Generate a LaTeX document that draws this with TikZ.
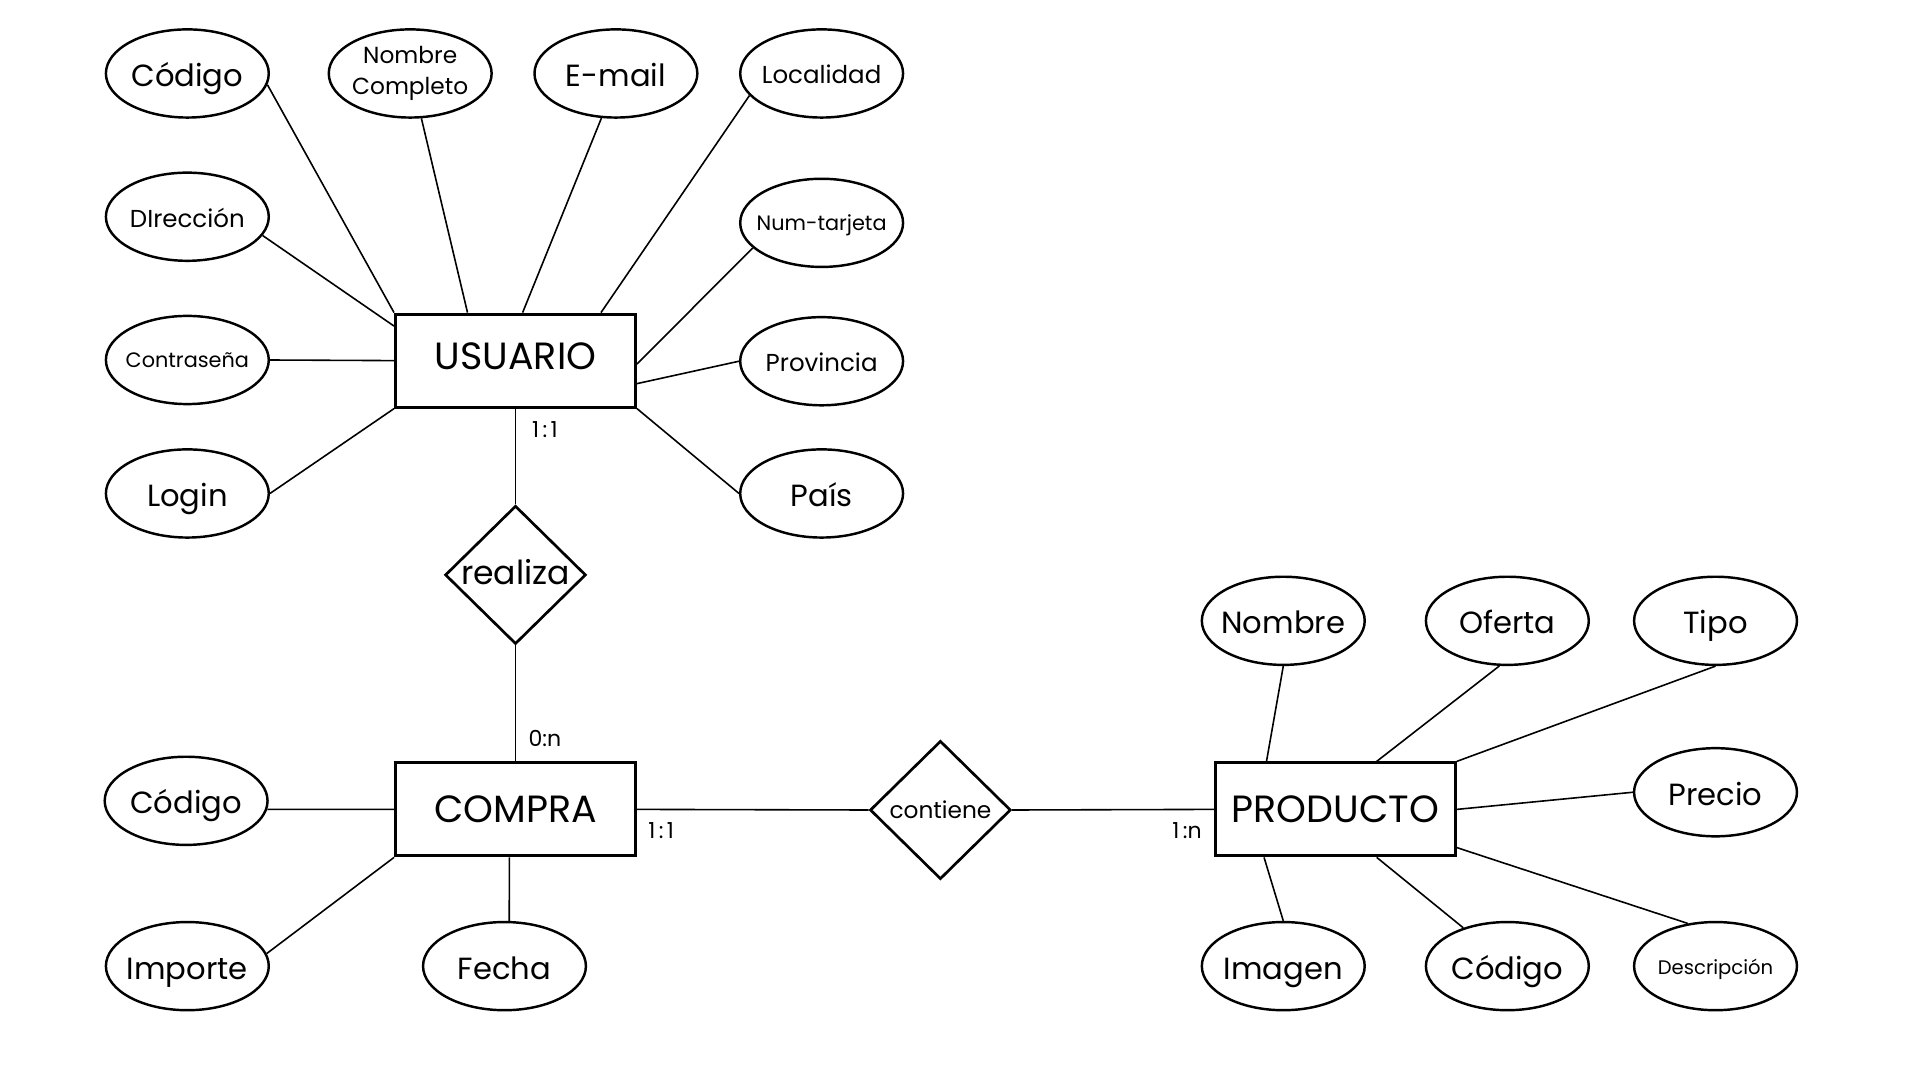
\documentclass[tikz,border=0pt]{standalone}
\usepackage{fontspec}
\setmainfont{Poppins}
\usetikzlibrary{shapes.geometric}

% a digit set in the width of a zero (tabular figure)
\newcommand\tabdigit[1]{\makebox[\fontcharwd\font`0][c]{#1}}

\tikzset{
  attr/.style={draw, ellipse, line width=2pt, minimum width=133pt, minimum height=72pt,
    inner ysep=0pt, inner xsep=-20pt, align=center},
  entity/.style={draw, rectangle, line width=2.4pt, minimum width=196pt, minimum height=76pt,
    inner sep=0pt, font=\fontsize{31}{36}\selectfont},
  relation/.style={draw, diamond, line width=2.2pt, minimum width=115pt, minimum height=113pt,
    inner sep=0pt},
  link/.style={line width=1.3pt},
  card/.style={font=\fontsize{18}{20}\selectfont, inner sep=0pt},
  big/.style={text height=21.5pt, text depth=0pt, font=\fontsize{25}{30}\selectfont},
  mid/.style={text height=17pt, text depth=0pt, font=\fontsize{20}{24}\selectfont},
  small/.style={text height=13pt, text depth=0pt, font=\fontsize{17}{20}\selectfont},
}

\begin{document}
\begin{tikzpicture}[x=1pt, y=-1pt]
\useasboundingbox[fill=white] (0,0) rectangle (1568,882);

% entities
\node[entity, text depth=7pt] (usuario) at (421,294.5) {USUARIO};
\node[entity] (compra) at (421,661) {COMPRA};
\node[entity] (producto) at (1090.5,661) {PRODUCTO};

% relationships
\node[relation, label={[font=\fontsize{27}{30}\selectfont, yshift=2.5pt]center:realiza}] (realiza) at (421,469.5) {};
\node[relation, label={[font=\fontsize{19}{22}\selectfont]center:contiene}] (contiene) at (768,661.5) {};

% attributes of USUARIO
\node[attr, big] (u_codigo) at (153,60) {Código};
\node[attr, font=\fontsize{19}{25}\selectfont] (u_nombre) at (335,60) {Nombre\\Completo};
\node[attr, big] (u_email) at (503,60) {E-mail};
\node[attr, mid] (u_localidad) at (671,60) {Localidad};
\node[attr, mid] (u_direccion) at (153,177) {DIrección};
\node[attr, small] (u_tarjeta) at (671,182) {Num-tarjeta};
\node[attr, small] (u_pass) at (153,294) {Contraseña};
\node[attr, mid] (u_provincia) at (671,295) {Provincia};
\node[attr, big] (u_login) at (153,403) {Login};
\node[attr, big] (u_pais) at (671,403) {País};

% attributes of COMPRA
\node[attr, big] (c_codigo) at (152,654) {Código};
\node[attr, big] (c_importe) at (153,789) {Importe};
\node[attr, big] (c_fecha) at (412,789) {Fecha};

% attributes of PRODUCTO
\node[attr, big] (p_nombre) at (1048,507) {Nombre};
\node[attr, big] (p_oferta) at (1231,507) {Oferta};
\node[attr, big] (p_tipo) at (1401,507) {Tipo};
\node[attr, big] (p_precio) at (1401,647) {Precio};
\node[attr, big] (p_imagen) at (1048,789) {Imagen};
\node[attr, big] (p_codigo) at (1231,789) {Código};
\node[attr, text height=14pt, text depth=0pt, font=\fontsize{16}{20}\selectfont] (p_desc) at (1401,789) {Descripción};

% USUARIO links
\draw[link] (u_codigo.-8.5) -- (usuario.north west);
\draw[link] (u_nombre.-76) -- ([xshift=60pt]usuario.north west);
\draw[link] (u_email.-108) -- ([xshift=105pt]usuario.north west);
\draw[link] (u_localidad.-163) -- ([xshift=169pt]usuario.north west);
\draw[link] (u_direccion.-14.5) -- ([yshift=-11pt]usuario.north west);
\draw[link] (u_pass.east) -- (usuario.west);
\draw[link] (u_login.east) -- (usuario.south west);
\draw[link] (u_tarjeta.-160) -- ([yshift=-42pt]usuario.north east);
\draw[link] (u_provincia.west) -- ([yshift=-58pt]usuario.north east);
\draw[link] (u_pais.west) -- (usuario.south east);

% COMPRA links
\draw[link] (c_codigo.-6) -- (compra.west);
\draw[link] (c_importe.9) -- (compra.south west);
\draw[link] (c_fecha.84) -- ([xshift=-5pt]compra.south);

% PRODUCTO links
\draw[link] (p_nombre.south) -- ([xshift=43pt]producto.north west);
\draw[link] (p_oferta.-100) -- ([xshift=133pt]producto.north west);
\draw[link] (p_tipo.south) -- (producto.north east);
\draw[link] (p_precio.west) -- (producto.east);
\draw[link] (p_imagen.north) -- ([xshift=41pt]producto.south west);
\draw[link] (p_codigo.139) -- ([xshift=133pt]producto.south west);
\draw[link] (p_desc.123) -- ([yshift=8pt]producto.south east);

% relationship links with cardinalities
\draw[link] (usuario.south) -- (realiza.north);
\draw[link] (realiza.south) -- (compra.north);
\draw[link] (compra.east) -- (contiene.west);
\draw[link] (contiene.east) -- (producto.west);
\node[card] (k1) at (445,351) {\tabdigit{1}:\tabdigit{1}};
\node[card] (k2) at (445,603) {0:n};
\node[card] (k3) at (540,678) {\tabdigit{1}:\tabdigit{1}};
\node[card] (k4) at (968,678) {\tabdigit{1}:n};
\end{tikzpicture}
\end{document}
